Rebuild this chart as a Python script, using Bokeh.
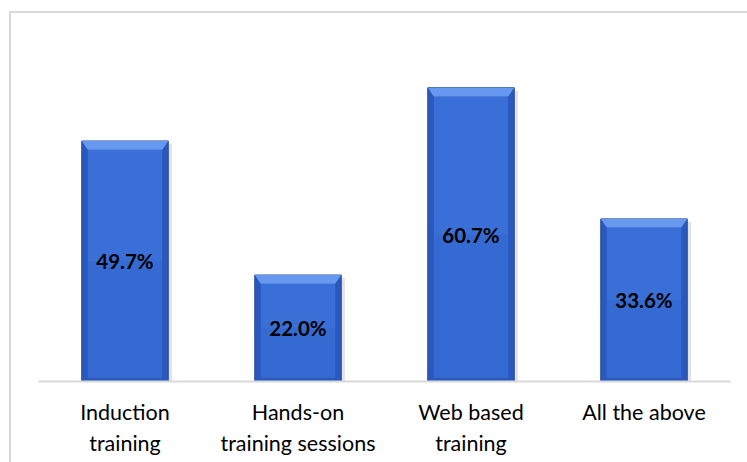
from bokeh.plotting import figure
from bokeh.models import Range1d, FixedTicker, ColumnDataSource
from bokeh.core.properties import value
from bokeh.embed import file_html
from bokeh.resources import INLINE

categories = ["Induction\ntraining", "Hands-on\ntraining sessions", "Web based\ntraining", "All the above"]
values = [49.7, 22.0, 60.7, 33.6]
labels = ["49.7%", "22.0%", "60.7%", "33.6%"]

n = len(categories)
xs = [i + 0.5 for i in range(n)]
half = 0.25
bev_x = 0.035   # side bevel width (x units)
bev_y = 1.8     # top bevel height (y units)
bev_b = 0.8     # bottom bevel height

p = figure(width=738, height=451, margin=(11, 0, 0, 9),
           x_range=Range1d(0, n), y_range=Range1d(0, 74.6),
           output_backend="svg", toolbar_location=None,
           min_border_left=27, min_border_right=19, min_border_top=7, min_border_bottom=83)
p.styles = {"border-left": "2px solid #d9d9d9", "border-top": "2px solid #d9d9d9"}
p.outline_line_color = None
p.xgrid.visible = False
p.ygrid.visible = False
p.yaxis.visible = False
p.background_fill_color = "white"
p.border_fill_color = "white"

# shadow
p.quad(left=[x - half + 0.02 for x in xs], right=[x + half + 0.022 for x in xs],
       bottom=[0] * n, top=[v - 0.6 for v in values],
       fill_color="#7f7f7f", fill_alpha=0.22, line_color=None)
# outer bar (edge colour)
p.quad(left=[x - half for x in xs], right=[x + half for x in xs],
       bottom=[0] * n, top=values, fill_color="#2a58bd", line_color="#22489c", line_width=1)
# inner face (two tones for a soft vertical gradient)
p.quad(left=[x - half + bev_x for x in xs], right=[x + half - bev_x for x in xs],
       bottom=[bev_b] * n, top=[v - bev_y for v in values], fill_color="#3a6fd8", line_color=None)
p.quad(left=[x - half + bev_x for x in xs], right=[x + half - bev_x for x in xs],
       bottom=[bev_b] * n, top=[v * 0.5 for v in values], fill_color="#2f60c8", fill_alpha=0.35,
       line_color=None)
# top bevel highlight
top_xs = [[x - half, x + half, x + half - bev_x, x - half + bev_x] for x in xs]
top_ys = [[v, v, v - bev_y, v - bev_y] for v in values]
p.patches(top_xs, top_ys, fill_color="#6698f0", line_color=None)

src = ColumnDataSource(dict(x=xs, y=[v / 2 for v in values], t=labels))
p.text(x="x", y="y", text="t", source=src, text_align="center", text_baseline="middle",
       text_font=value("Lato"), text_font_style="bold", text_font_size="20.5px", text_color="black")

p.xaxis.ticker = FixedTicker(ticks=xs)
p.xaxis.major_label_overrides = {x: c for x, c in zip(xs, categories)}
p.xaxis.axis_line_color = "#d9d9d9"
p.xaxis.axis_line_width = 2
p.xaxis.major_tick_line_color = None
p.xaxis.minor_tick_line_color = None
p.xaxis.major_label_standoff = 11
p.xaxis.major_label_text_font = "Lato"
p.xaxis.major_label_text_font_size = "21.5px"
p.xaxis.major_label_text_color = "black"

open("out.html", "w").write(file_html(p, INLINE))
